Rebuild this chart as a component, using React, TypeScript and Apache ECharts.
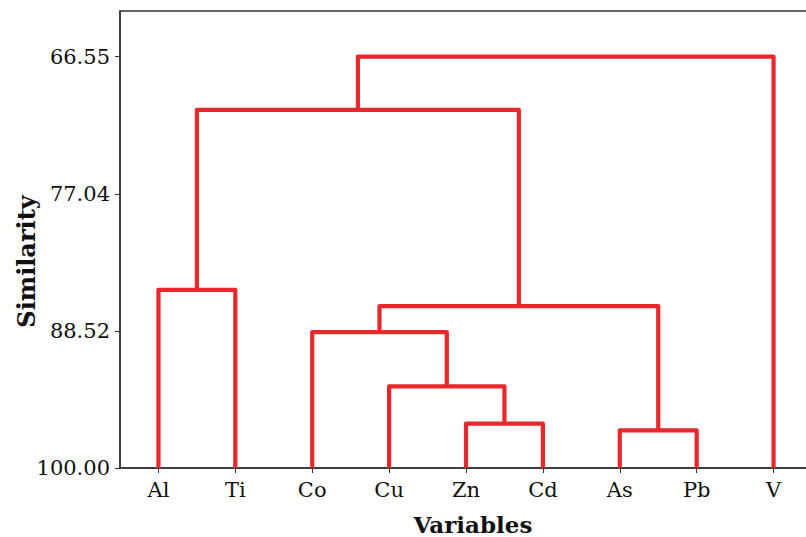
import React, { useEffect, useRef } from "react";
import * as echarts from "echarts";

const leaves = ["Al", "Ti", "Co", "Cu", "Zn", "Cd", "As", "Pb", "V"];
// merges create clusters with ids 9, 10, ... in order
const mergeLeft = [4, 6, 3, 2, 0, 12, 13, 15];
const mergeRight = [5, 7, 9, 11, 1, 10, 14, 8];
const mergeSimilarity = [96.29, 96.85, 93.17, 88.62, 85.08, 86.45, 70.02, 65.56];
const yTickValues = [65.56, 77.04, 88.52, 100.0];
const yTickLabels = ["66.55", "77.04", "88.52", "100.00"];

const RED = "#e8282b";
const AXIS = "#333333";
const FONT = "DejaVu Serif";

export default function App() {
  const ref = useRef<HTMLDivElement>(null);
  useEffect(() => {
    if (!ref.current) return;
    const chart = echarts.init(ref.current, undefined, { renderer: "svg" });
    const pos: number[] = leaves.map((_, i) => i);
    const hgt: number[] = leaves.map(() => 100);
    const series: any[] = [];
    mergeLeft.forEach((l, k) => {
      const r = mergeRight[k];
      const h = mergeSimilarity[k];
      const xl = pos[l];
      const xr = pos[r];
      series.push({
        type: "line",
        data: [
          [xl, hgt[l]],
          [xl, h],
          [xr, h],
          [xr, hgt[r]],
        ],
        symbol: "none",
        silent: true,
        lineStyle: { color: RED, width: 4.2, join: "round", cap: "butt" },
      });
      pos.push((xl + xr) / 2);
      hgt.push(h);
    });
    chart.setOption({
      animation: false,
      grid: {
        left: 120,
        right: -6,
        top: 11,
        bottom: 69,
        show: true,
        containLabel: false,
        outerBoundsMode: "none",
        borderColor: AXIS,
        borderWidth: 1.5,
      },
      xAxis: {
        type: "value",
        min: -0.5,
        max: 8.5,
        name: "Variables",
        nameLocation: "middle",
        nameGap: 45,
        nameMoveOverlap: false,
        nameTextStyle: { fontFamily: FONT, fontWeight: "bold", fontSize: 23, color: "#111", padding: [0, 0, 0, 14] },
        axisLine: { show: true, onZero: false, lineStyle: { color: AXIS, width: 1.5 } },
        axisTick: { show: true, length: 5, customValues: leaves.map((_, i) => i), lineStyle: { color: AXIS } },
        axisLabel: {
          customValues: leaves.map((_, i) => i),
          formatter: (v: number) => leaves[Math.round(v)] ?? "",
          fontFamily: FONT,
          fontSize: 21,
          color: "#111",
          margin: 11,
        },
        splitLine: { show: false },
      },
      yAxis: {
        type: "value",
        inverse: true,
        min: 61.74,
        max: 100,
        name: "Similarity",
        nameLocation: "middle",
        nameGap: 82,
        nameMoveOverlap: false,
        nameTextStyle: { fontFamily: FONT, fontWeight: "bold", fontSize: 24, color: "#111", padding: [0, 44, 0, 0] },
        axisLine: { show: true, onZero: false, lineStyle: { color: AXIS, width: 1.5 } },
        axisTick: { show: true, length: 5, customValues: yTickValues, lineStyle: { color: AXIS } },
        axisLabel: {
          customValues: yTickValues,
          formatter: (v: number) => {
            const i = yTickValues.findIndex((t) => Math.abs(t - v) < 1e-6);
            return i >= 0 ? yTickLabels[i] : "";
          },
          fontFamily: FONT,
          fontSize: 21,
          color: "#111",
          margin: 10,
        },
        splitLine: { show: false },
      },
      series,
    });
    return () => chart.dispose();
  }, []);
  return (
    <div
      ref={ref}
      style={{ position: "absolute", left: 0, top: 0, width: 806, height: 537, background: "#fff" }}
    />
  );
}
